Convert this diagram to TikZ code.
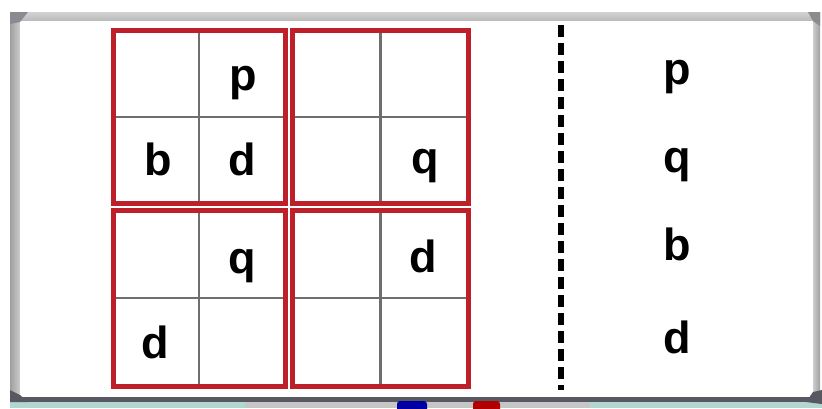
\documentclass[tikz,border=0pt]{standalone}
\usepackage{fontspec}
\setmainfont{Liberation Sans}
\usepackage{tikz}
\usetikzlibrary{positioning}
\definecolor{boardred}{RGB}{190,32,42}
\definecolor{cellgray}{RGB}{110,110,110}
\definecolor{framedark}{RGB}{88,88,98}
\definecolor{traytint}{RGB}{178,214,208}

\begin{document}
\begin{tikzpicture}[x=1pt,y=-1pt,
    every node/.style={font=\fontsize{45}{45}\selectfont\bfseries, inner sep=0pt},
    letter/.style={anchor=base},
    block/.style={draw=boardred, line width=5pt},
    gridline/.style={draw=cellgray, line width=2.5pt},
    divider/.style={line width=5.5pt, dash pattern=on 12pt off 6pt},
]
\useasboundingbox (0,0) rectangle (822,408);
\fill[white] (0,0) rectangle (822,408);

% whiteboard frame
\fill[traytint] (10,402) rectangle (822,408);
\shade[top color=gray!35, bottom color=gray!55] (10,12) rectangle (820,21);
\shade[left color=gray!75, right color=gray!40] (10,12) rectangle (20,400);
\shade[left color=gray!40, right color=gray!75] (813,12) rectangle (820,400);
\fill[framedark] (10,397) rectangle (820,402);
\fill[white] (20,21) rectangle (813,397);
\fill[framedark!70] (10,12) -- (28,12) -- (20,22) -- (10,24) -- cycle;
\fill[framedark!70] (808,12) -- (820,12) -- (820,26) -- (813,21) -- cycle;
\fill[framedark] (10,390) -- (20,395) -- (28,402) -- (10,402) -- cycle;
\fill[framedark] (813,392) -- (822,390) -- (822,404) -- (806,402) -- cycle;

% tray with markers
\fill[gray!45] (245,402) rectangle (590,408);
\fill[blue!65!black, rounded corners=3pt] (397,401) rectangle (427,412);
\fill[red!70!black, rounded corners=3pt] (473,401) rectangle (500,412);

% 2x2 blocks
\foreach \xa/\xm/\xb in {113.5/199/285, 292.5/380.5/468}
  \foreach \ya/\ym/\yb in {30/117/203.5, 210.5/298/386}
  {
    \draw[gridline] (\xm,\ya) -- (\xm,\yb);
    \draw[gridline] (\xa,\ym) -- (\xb,\ym);
    \draw[block] (\xa,\ya) rectangle (\xb,\yb);
  }

% letters in the grid
\node[letter] (gp) at (243,90) {p};
\node[letter] (gb) at (158,175) {b};
\node[letter] (gd) at (242,175) {d};
\node[letter] (gq) at (425,173) {q};
\node[letter] (gq2) at (242,273) {q};
\node[letter] (gd2) at (423,272) {d};
\node[letter] (gd3) at (155,358) {d};

% divider
\coordinate (dtop) at (561,25);
\coordinate (dbot) at (561,390);
\draw[divider] (dtop) -- (dbot);

% letters on the right
\node[letter] (rp) at (677,84) {p};
\node[letter] (rq) at (677,172) {q};
\node[letter] (rb) at (677,260) {b};
\node[letter] (rd) at (677,353) {d};
\end{tikzpicture}
\end{document}
